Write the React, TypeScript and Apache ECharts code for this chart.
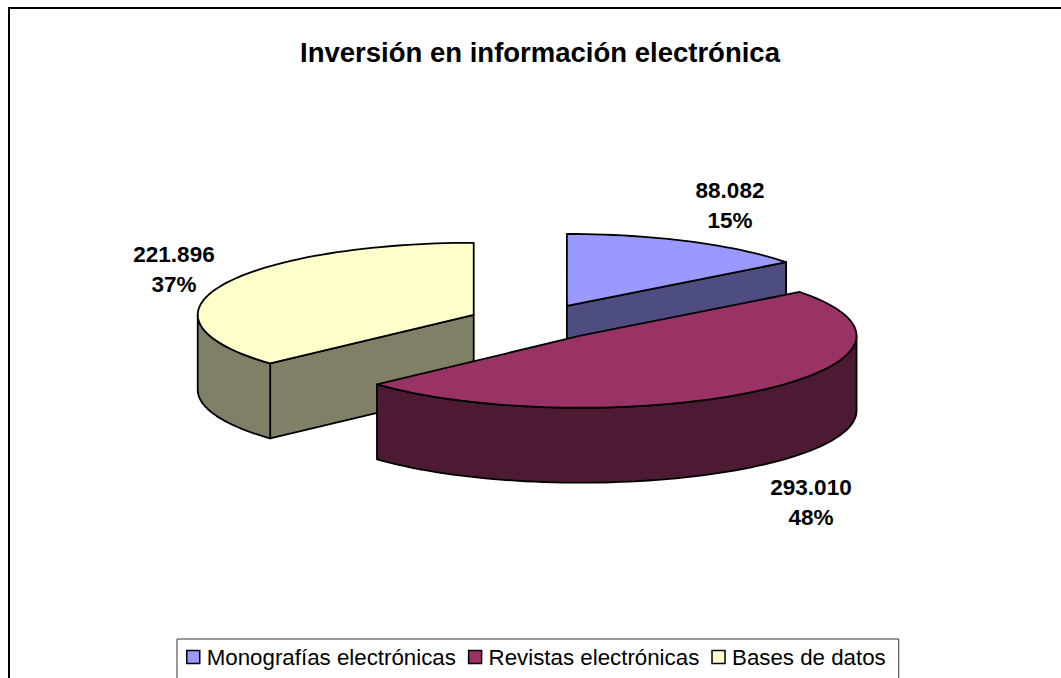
import React, { useEffect, useRef } from "react";
import * as echarts from "echarts";

const TITLE = "Inversión en información electrónica";
const CATEGORIES = ["Monografías electrónicas", "Revistas electrónicas", "Bases de datos"];
const VALUES = [88082, 293010, 221896];
const VALUE_LABELS = ["88.082", "293.010", "221.896"];
const PERCENT_LABELS = ["15%", "48%", "37%"];

const TOP_COLORS = ["#9999FF", "#993366", "#FFFFCC"];
const SIDE_COLORS = ["#4D4D80", "#4D1A33", "#808066"];
const PAINT_ORDER = [2, 3, 1];
const LABEL_CENTRES = [[730, 205], [811, 502], [174, 269]];

const CX = 536.5;
const CY = 322;
const RX = 276;
const RY = 72;
const EXPLODE = 68.6;
const DEPTH = 75;
const FONT = "Liberation Sans, Arial, sans-serif";

const TOTAL = VALUES.reduce((a, b) => a + b, 0);
const startAngle = (i: number) => (VALUES.slice(0, i).reduce((a, b) => a + b, 0) / TOTAL) * 360;

const makeRenderItem = (i: number) => (_params: any, api: any) => {
  const sweep = (api.value(0) / TOTAL) * 360;
  const a0 = startAngle(i);
  const a1 = a0 + sweep;
  const rad = (d: number) => (d * Math.PI) / 180;
  const mid = rad((a0 + a1) / 2);
  const ax = CX + EXPLODE * Math.sin(mid);
  const ay = CY - (EXPLODE * RY * Math.cos(mid)) / RX;
  const pt = (deg: number, drop = 0) => [
    ax + RX * Math.sin(rad(deg)),
    ay - RY * Math.cos(rad(deg)) + drop,
  ];
  const arc = (from: number, to: number, drop = 0) => {
    const out: number[][] = [];
    const n = Math.max(1, Math.ceil((to - from) / 2));
    for (let k = 0; k <= n; k++) out.push(pt(from + ((to - from) * k) / n, drop));
    return out;
  };
  const border = { stroke: "#000", lineWidth: 1.8, lineJoin: "round" };
  const side = { fill: SIDE_COLORS[i], ...border };
  const children: any[] = [];
  const radialFace = (deg: number) => {
    const e = pt(deg);
    children.push({
      type: "polygon",
      shape: { points: [[ax, ay], e, [e[0], e[1] + DEPTH], [ax, ay + DEPTH]] },
      style: side,
    });
  };
  if (Math.sin(rad(a0)) < -1e-6) radialFace(a0);
  if (Math.sin(rad(a1)) > 1e-6) radialFace(a1);
  const w0 = Math.max(a0, 90);
  const w1 = Math.min(a1, 270);
  if (w1 > w0) {
    children.push({
      type: "polygon",
      shape: { points: [...arc(w0, w1), ...arc(w0, w1, DEPTH).reverse()] },
      style: side,
    });
  }
  children.push({
    type: "polygon",
    shape: { points: [[ax, ay], ...arc(a0, a1)] },
    style: { fill: TOP_COLORS[i], ...border },
  });
  children.push({
    type: "text",
    x: LABEL_CENTRES[i][0],
    y: LABEL_CENTRES[i][1],
    style: {
      text: `${VALUE_LABELS[i]}\n${PERCENT_LABELS[i]}`,
      fill: "#000",
      font: `bold 22.5px ${FONT}`,
      lineHeight: 30,
      align: "center",
      verticalAlign: "middle",
    },
  });
  return { type: "group", children };
};

export default function App() {
  const ref = useRef<HTMLDivElement>(null);
  useEffect(() => {
    const chart = echarts.init(ref.current!, undefined, { renderer: "svg" });
    chart.setOption({
      animation: false,
      backgroundColor: "#fff",
      title: {
        text: TITLE,
        left: 540,
        top: 38,
        textAlign: "center",
        padding: 0,
        textStyle: { fontFamily: FONT, fontWeight: "bold", fontSize: 27.5, color: "#000" },
      },
      legend: {
        left: 177,
        top: 639,
        orient: "horizontal",
        padding: [7, 13, 60, 9],
        itemGap: 12,
        itemWidth: 13,
        itemHeight: 13,
        borderColor: "#333",
        borderWidth: 1,
        icon: "rect",
        data: CATEGORIES.map((name, i) => ({
          name,
          itemStyle: { color: TOP_COLORS[i], borderColor: "#000", borderWidth: 1.5 },
        })),
        textStyle: { fontFamily: FONT, fontSize: 22.3, color: "#000", padding: [0, 0, 0, 2] },
      },
      graphic: [
        {
          type: "rect",
          shape: { x: 9, y: 8, width: 1200, height: 900 },
          style: { fill: "none", stroke: "#000", lineWidth: 2 },
          silent: true,
        },
      ],
      series: CATEGORIES.map((name, i) => ({
        type: "custom",
        name,
        coordinateSystem: "none",
        z: PAINT_ORDER[i],
        silent: true,
        itemStyle: { color: TOP_COLORS[i] },
        data: [[VALUES[i]]],
        renderItem: makeRenderItem(i),
      })),
    });
    return () => chart.dispose();
  }, []);
  return <div ref={ref} style={{ position: "absolute", left: 0, top: 0, width: 1061, height: 678, overflow: "hidden" }} />;
}
